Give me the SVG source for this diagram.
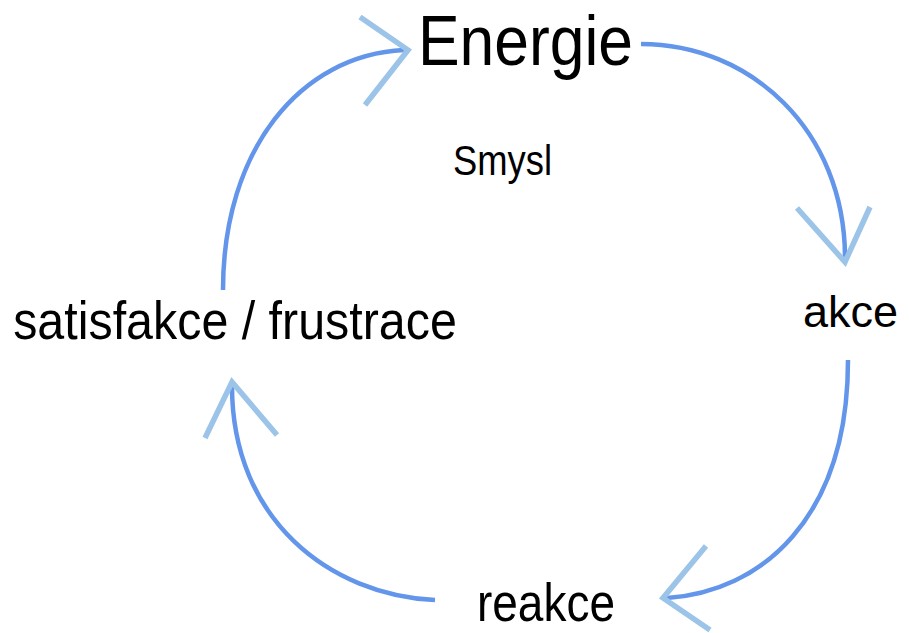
<svg xmlns="http://www.w3.org/2000/svg" width="909" height="633" viewBox="0 0 909 633">
<style>
text{font-family:"Liberation Sans",Arial,Helvetica,sans-serif;fill:#000;text-anchor:middle}
.c{fill:none;stroke:#6396EA;stroke-width:4.5;stroke-linecap:butt}
.h{fill:none;stroke:#9BC4E8;stroke-width:5.5;stroke-linecap:butt;stroke-linejoin:miter}
</style>
<rect width="909" height="633" fill="#fff"/>
<g id="connectors">
<path class="c" d="M641,44 C750,44 845,130 845,258"/>
<polyline class="h" points="797,208 845,262 870,207"/>
<path class="c" d="M848,360 C848,520 760,592 667,598"/>
<polyline class="h" points="706,546 663,598 710,630"/>
<path class="c" d="M435,600 C330,595 232,520 232,386"/>
<polyline class="h" points="205,438 232,382 277,435"/>
<path class="c" d="M223,290 C223,150 300,55 404,50"/>
<polyline class="h" points="360,17 408,50 365,105"/>
</g>
<g id="energie"><text transform="translate(525.5,65) scale(1,1.14)" font-size="62.4">Energie</text></g>
<g id="smysl"><text transform="translate(502.5,175) scale(1,1.15)" font-size="36.4">Smysl</text></g>
<g id="akce"><text transform="translate(850.5,327)" font-size="45">akce</text></g>
<g id="reakce"><text transform="translate(546,621) scale(1,1.18)" font-size="46">reakce</text></g>
<g id="satisfakce"><text transform="translate(235,339) scale(1,1.1)" font-size="48.4">satisfakce / frustrace</text></g>
</svg>
